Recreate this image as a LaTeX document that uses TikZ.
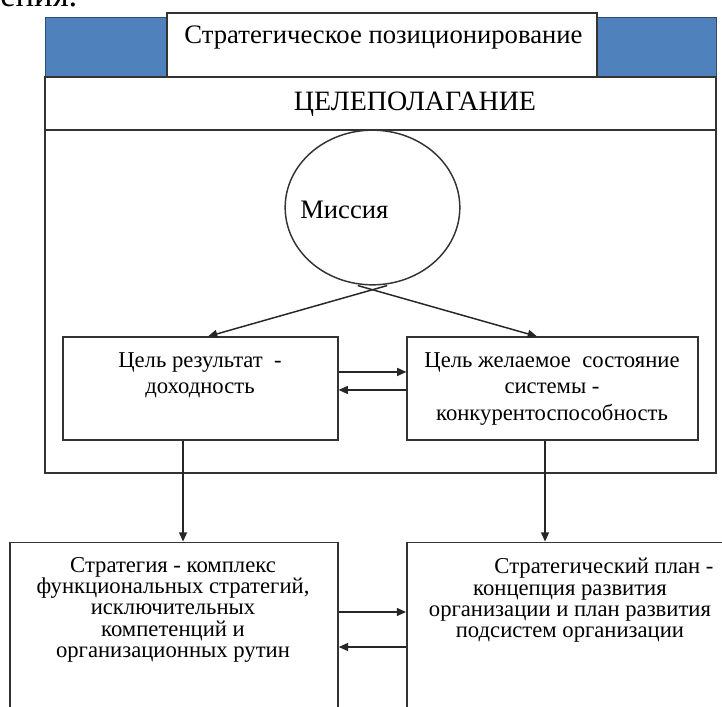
\documentclass[tikz,border=0pt]{standalone}
\usepackage{fontspec}
\setmainfont{Liberation Serif}
\usetikzlibrary{shapes.geometric,arrows.meta}
\definecolor{bandblue}{HTML}{4F81BD}
\tikzset{
	frame/.style={draw=black!80, line width=1.1pt},
	box/.style={rectangle, draw=black!80, line width=1.1pt, inner sep=0pt},
	txt/.style={align=center, inner sep=0pt, font=\fontsize{17}{16}\selectfont},
	goaltxt/.style={txt, font=\fontsize{17}{20}\selectfont},
	arr/.style={draw=black!85, line width=1.1pt, -{Triangle[length=7pt,width=6pt]}},
}
\begin{document}
\begin{tikzpicture}[x=0.75pt, y=-0.75pt]
		\clip (0,0) rectangle (722,707);
		\node[anchor=base west, inner sep=0pt, font=\fontsize{26}{26}\selectfont] (prev) at (0,6) {ения.};
		
		% header band
		\filldraw[fill=bandblue, draw=bandblue!60!black] (45,17) rectangle (716,77);
		\node[box, fill=white, minimum width=322.5pt, minimum height=48pt] (head) at (382,45) {};
		\node[anchor=base, inner sep=0pt, font=\fontsize{20}{24}\selectfont] (headtxt) at (383.5,43) {Стратегическое позиционирование};
		
		% goal setting frame
		\draw[frame] (45,77) rectangle (716,473);
		\draw[frame] (45,130) -- (716,130);
		\node[anchor=base, inner sep=0pt, font=\fontsize{21}{24}\selectfont] (goalset) at (415,110) {ЦЕЛЕПОЛАГАНИЕ};
		
		\node[ellipse, draw=black!80, line width=1.1pt, minimum width=131pt, minimum height=116pt] (mission) at (372.5,207.5) {};
		\node[anchor=west, inner sep=0pt, font=\fontsize{20}{24}\selectfont] (missiontxt) at (300,210) {Миссия};
		
		\node[box, minimum width=206pt, minimum height=77pt] (goalA) at (200.5,388.5) {};
		\node[goaltxt, anchor=north] (goalAtxt) at (200,352) {Цель результат~ -\\доходность};
		
		\node[box, minimum width=218pt, minimum height=77pt] (goalB) at (552.5,388.5) {};
		\node[goaltxt, anchor=north] (goalBtxt) at (552,352) {Цель желаемое~ состояние\\системы -\\конкурентоспособность};
		
		% lower boxes
		\node[box, minimum width=246pt, minimum height=178pt] (strat) at (174,661) {};
		\node[txt, anchor=north] (strattxt) at (173,557) {Стратегия - комплекс\\функциональных стратегий,\\исключительных\\компетенций и\\организационных рутин};
		
		\node[box, minimum width=280pt, minimum height=178pt] (plan) at (593.5,661) {};
		\node[txt, anchor=north] (plantxt) at (570,558) {\hspace*{51pt}Стратегический план -\\концепция развития\\организации и план развития\\подсистем организации};
		
		% connectors
		\draw[arr] ([xshift=11pt]mission.south) -- ([xshift=5.6pt]goalA.north);
		\draw[arr] ([xshift=-11pt]mission.south) -- ([xshift=-11.6pt]goalB.north);
		\draw[arr] ([yshift=12.4pt]goalA.east) -- ([yshift=12.4pt]goalB.west);
		\draw[arr] ([yshift=-1.1pt]goalB.west) -- ([yshift=-1.1pt]goalA.east);
		\draw[arr] ([xshift=-13.1pt]goalA.south) -- ([xshift=-13.1pt]goalA.south |- strat.north);
		\draw[arr] ([xshift=-5.6pt]goalB.south) -- ([xshift=-5.6pt]goalB.south |- plan.north);
		\draw[arr] ([yshift=36.75pt]strat.east) -- ([yshift=36.75pt]plan.west);
		\draw[arr] ([yshift=10.5pt]plan.west) -- ([yshift=10.5pt]strat.east);
\end{tikzpicture}
\end{document}
